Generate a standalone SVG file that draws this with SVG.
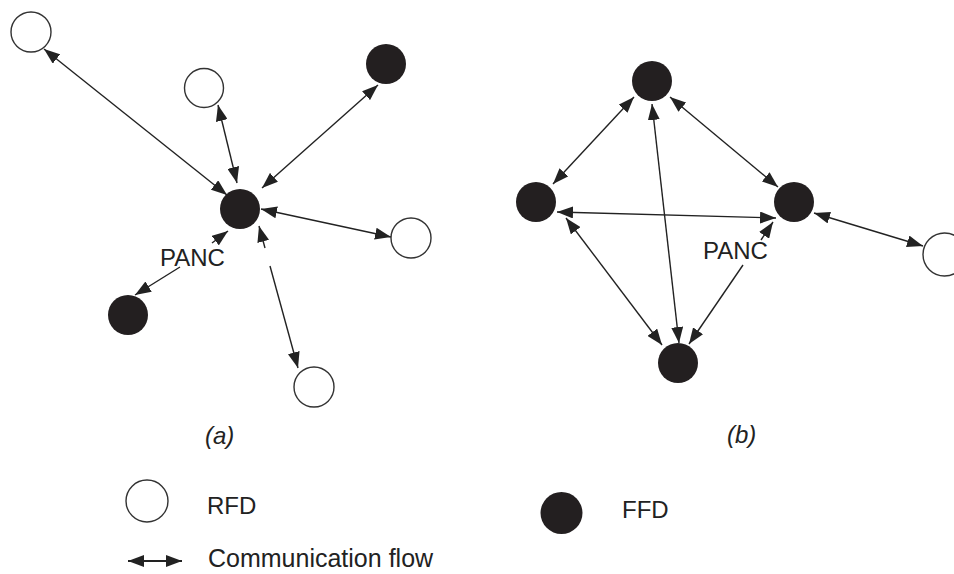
<svg xmlns="http://www.w3.org/2000/svg" width="954" height="574" viewBox="0 0 954 574">
<style>
  .rfd { fill: #fff; stroke: #333; stroke-width: 1.4; }
  .ffd { fill: #231f20; stroke: none; }
  .edge { stroke: #222; stroke-width: 1.4; fill: none; }
  .both { marker-start: url(#ah); marker-end: url(#ah); }
  .one { marker-end: url(#ah); }
  .lbl { font-family: "Liberation Sans", Arial, sans-serif; font-size: 24px; fill: #222; }
  .cap { font-family: "Liberation Sans", Arial, sans-serif; font-size: 24px; font-style: italic; fill: #222; }
</style>
<defs>
  <marker id="ah" viewBox="0 0 16 12" refX="16" refY="6" markerWidth="16" markerHeight="12" orient="auto-start-reverse" markerUnits="userSpaceOnUse">
    <path d="M0,0 L16,6 L0,12 z" fill="#222"/>
  </marker>
</defs>
<rect width="954" height="574" fill="#fff"/>

<g id="connectors">
  <!-- (a) star -->
  <line class="edge both" x1="44" y1="49" x2="227" y2="195"/>
  <line class="edge both" x1="218" y1="105" x2="237" y2="183"/>
  <line class="edge both" x1="378" y1="85" x2="262" y2="188"/>
  <line class="edge both" x1="261" y1="209" x2="391" y2="237"/>
  <line class="edge one" x1="212" y1="243" x2="228" y2="231"/>
  <line class="edge one" x1="180" y1="267" x2="135" y2="295"/>
  <line class="edge one" x1="265" y1="248" x2="259" y2="226"/>
  <line class="edge one" x1="270" y1="266" x2="298" y2="368"/>
  <!-- (b) mesh -->
  <line class="edge both" x1="634" y1="97" x2="553" y2="184"/>
  <line class="edge both" x1="670" y1="97" x2="778" y2="187"/>
  <line class="edge both" x1="652" y1="104" x2="679" y2="343"/>
  <line class="edge both" x1="557" y1="212" x2="776" y2="218"/>
  <line class="edge both" x1="566" y1="218" x2="662" y2="345"/>
  <line class="edge one" x1="761" y1="240" x2="773" y2="222"/>
  <line class="edge one" x1="743" y1="265" x2="689" y2="344"/>
  <line class="edge both" x1="814" y1="213" x2="923" y2="246"/>
  <!-- legend arrow -->
  <line class="edge both" x1="128" y1="561" x2="182" y2="561" style="stroke-width:2"/>
</g>

<!-- (a) nodes -->
<g id="a-rfd-topleft"><circle class="rfd" cx="31" cy="32" r="20"/></g>
<g id="a-rfd-top"><circle class="rfd" cx="204" cy="88" r="19.5"/></g>
<g id="a-ffd-topright"><circle class="ffd" cx="386" cy="64" r="20"/></g>
<g id="a-panc">
  <circle class="ffd" cx="240" cy="209" r="20"/>
  <text class="lbl" x="160" y="266">PANC</text>
</g>
<g id="a-rfd-right"><circle class="rfd" cx="411" cy="238" r="20"/></g>
<g id="a-ffd-bottomleft"><circle class="ffd" cx="128" cy="315" r="20"/></g>
<g id="a-rfd-bottom"><circle class="rfd" cx="314" cy="387" r="20"/></g>

<!-- (b) nodes -->
<g id="b-ffd-top"><circle class="ffd" cx="652" cy="81" r="20"/></g>
<g id="b-ffd-left"><circle class="ffd" cx="536" cy="202" r="20"/></g>
<g id="b-panc">
  <circle class="ffd" cx="794" cy="202" r="20"/>
  <text class="lbl" x="703" y="259">PANC</text>
</g>
<g id="b-ffd-bottom"><circle class="ffd" cx="678" cy="363" r="20"/></g>
<g id="b-rfd-right"><circle class="rfd" cx="944.5" cy="254.5" r="21.5"/></g>

<!-- captions -->
<text class="cap" x="205" y="444">(a)</text>
<text class="cap" x="727" y="443">(b)</text>

<!-- legend -->
<g id="legend-rfd">
  <circle class="rfd" cx="147" cy="501" r="21"/>
  <text class="lbl" x="207" y="514">RFD</text>
</g>
<g id="legend-ffd">
  <circle class="ffd" cx="561.5" cy="513" r="21"/>
  <text class="lbl" x="622" y="518">FFD</text>
</g>
<g id="legend-flow">
  <text class="lbl" x="208" y="567" style="font-size:25px">Communication flow</text>
</g>
</svg>
